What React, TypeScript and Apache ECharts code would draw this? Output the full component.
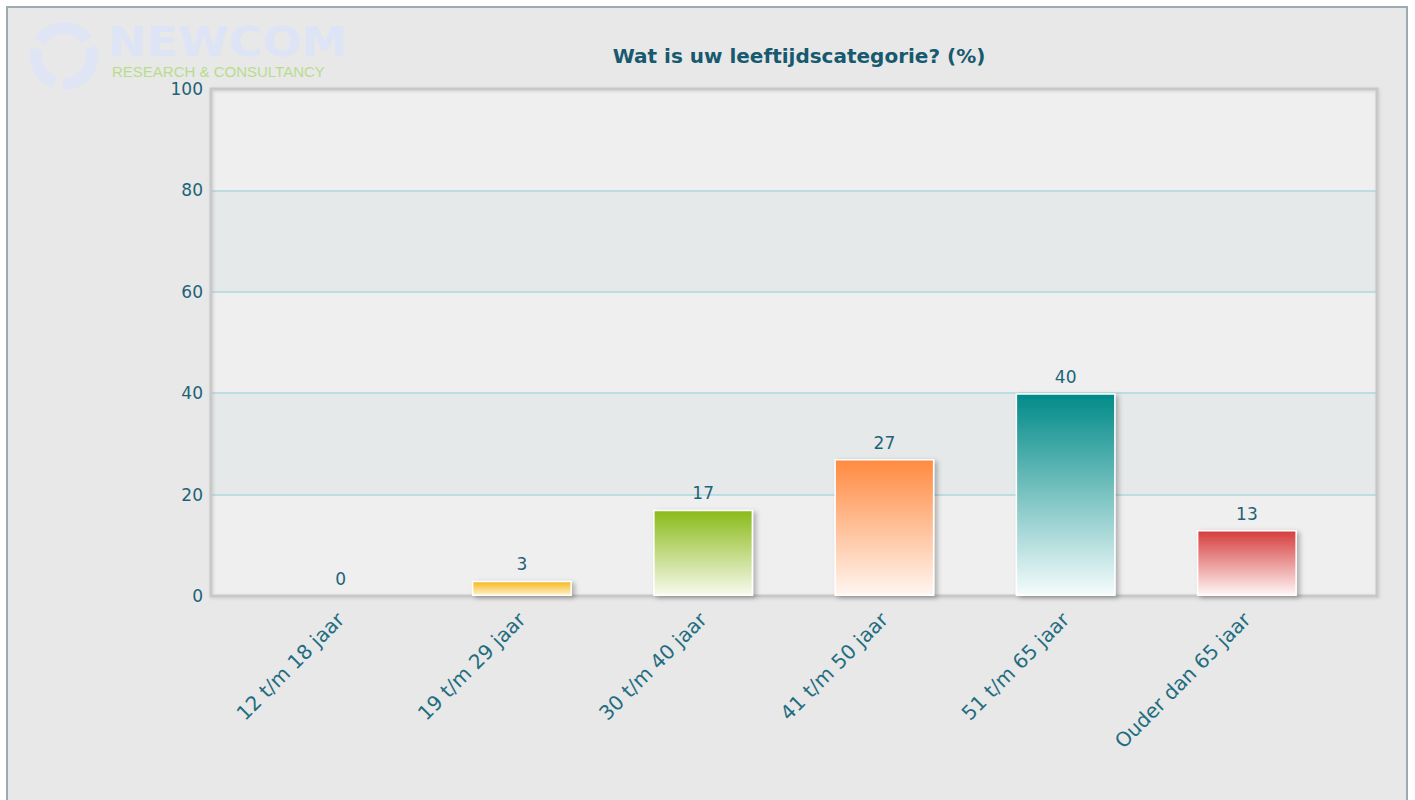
import React, { useEffect, useRef } from "react";
import * as echarts from "echarts";

const categories = ["12 t/m 18 jaar", "19 t/m 29 jaar", "30 t/m 40 jaar", "41 t/m 50 jaar", "51 t/m 65 jaar", "Ouder dan 65 jaar"];
const values = [0, 3, 17, 27, 40, 13];
const topColors = ["#9fb4d8", "#f5b81c", "#8aba18", "#ff8a40", "#008a88", "#d63c3c"];
const bottomColors = ["#f4f7fc", "#fff2cc", "#f8faee", "#fff6f1", "#f5fcfc", "#fff6f6"];
const yTicks = [0, 20, 40, 60, 80, 100];

const TXT = "#1d6378";
const FONT = "'DejaVu Sans', Verdana, sans-serif";

export default function App() {
  const ref = useRef<HTMLDivElement>(null);
  useEffect(() => {
    if (!ref.current) return;
    const chart = echarts.init(ref.current, undefined, { renderer: "svg" });
    const barData = values.map((v, i) => ({
      value: v,
      itemStyle: {
        color: new echarts.graphic.LinearGradient(0, 0, 0, 1, [
          { offset: 0, color: topColors[i] },
          { offset: 1, color: bottomColors[i] },
        ]),
      },
    }));
    chart.setOption({
      animation: false,
      backgroundColor: "#ffffff",
      textStyle: { fontFamily: FONT },
      title: {
        text: "Wat is uw leeftijdscategorie? (%)",
        left: 794,
        top: 41,
        textAlign: "center",
        textStyle: { color: "#17596e", fontSize: 20, fontWeight: "bold", fontFamily: FONT },
      },
      graphic: [
        {
          type: "rect",
          silent: true,
          z: -10,
          shape: { x: 7, y: 7, width: 1400, height: 900 },
          style: { fill: "#e8e8e8", stroke: "#9eaab2", lineWidth: 2 },
        },
        {
          type: "group",
          silent: true,
          z: -5,
          children: [
            { type: "arc", shape: { cx: 64, cy: 56, r: 28, startAngle: -2.6, endAngle: -0.6 }, style: { stroke: "#dfe5f5", lineWidth: 12, fill: "none" } },
            { type: "arc", shape: { cx: 64, cy: 56, r: 28, startAngle: -0.3, endAngle: 1.6 }, style: { stroke: "#dfe5f5", lineWidth: 12, fill: "none" } },
            { type: "arc", shape: { cx: 64, cy: 56, r: 28, startAngle: 1.9, endAngle: 3.4 }, style: { stroke: "#dfe5f5", lineWidth: 12, fill: "none" } },
            { type: "text", x: 108, y: 22, scaleX: 1.15, style: { text: "NEWCOM", fill: "#dde4f6", font: "bold 40px 'DejaVu Sans', sans-serif" } },
            { type: "text", x: 112, y: 64, style: { text: "RESEARCH & CONSULTANCY", fill: "#b8dc8e", font: "15px 'Liberation Sans', Arial, sans-serif" } },
          ],
        },
        {
          type: "rect",
          silent: true,
          z: 1,
          shape: { x: 211, y: 89, width: 1166, height: 507 },
          style: { fill: "none", stroke: "#c8c8c8", lineWidth: 3, shadowColor: "rgba(0,0,0,0.12)", shadowBlur: 3, shadowOffsetX: 1, shadowOffsetY: 1 },
        },
      ],
      grid: [
        { left: 211, right: 38, top: 89, bottom: 204, show: true, backgroundColor: "#efefef", borderWidth: 0, containLabel: false },
        { left: 250, right: 77.5, top: 89, bottom: 204, containLabel: false },
      ],
      xAxis: [
        { type: "category", gridIndex: 0, data: categories, show: false },
        {
          type: "category",
          gridIndex: 1,
          data: categories,
          axisLine: { show: false },
          axisTick: { show: false },
          axisLabel: { rotate: 45, color: "#1f6d80", fontSize: 20, fontFamily: FONT, margin: 20, interval: 0 },
        },
      ],
      yAxis: [
        {
          type: "value",
          gridIndex: 0,
          min: 0,
          max: 100,
          interval: 20,
          axisLine: { show: false },
          axisTick: { show: false },
          axisLabel: { color: TXT, fontSize: 17, fontFamily: FONT, margin: 8, formatter: (v: number) => (yTicks.includes(v) ? String(v) : "") },
          splitLine: { show: true, lineStyle: { color: "#aed7de", width: 1.5 } },
          splitArea: { show: true, areaStyle: { color: ["#efefef", "#e6e9ea"] } },
        },
        { type: "value", gridIndex: 1, min: 0, max: 100, interval: 20, show: false, splitLine: { show: false } },
      ],
      series: [
        {
          type: "bar",
          xAxisIndex: 1,
          yAxisIndex: 1,
          z: 2,
          data: barData,
          barWidth: 100,
          itemStyle: {
            borderColor: "#ffffff",
            borderWidth: 1.5,
            shadowColor: "rgba(0,0,0,0.28)",
            shadowBlur: 5,
            shadowOffsetX: 3,
            shadowOffsetY: 2,
          },
          label: { show: true, position: "top", distance: 8, color: TXT, fontSize: 17, fontFamily: FONT },
        },
      ],
    });
    return () => chart.dispose();
  }, []);
  return <div ref={ref} style={{ position: "fixed", left: 0, top: 0, width: 1415, height: 800 }} />;
}
